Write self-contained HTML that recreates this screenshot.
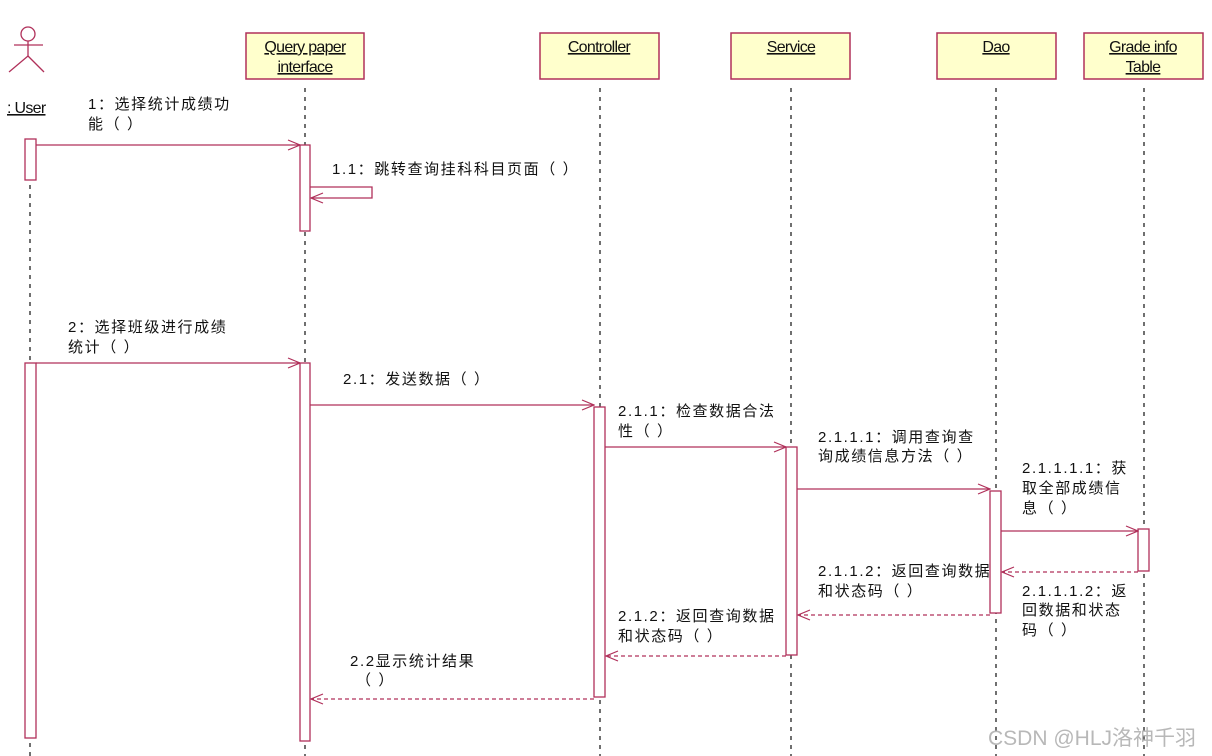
<!DOCTYPE html>
<html><head><meta charset="utf-8"><style>
html,body{margin:0;padding:0;background:#fff;width:1212px;height:756px;overflow:hidden}
text{font-family:"Liberation Sans","Noto Sans CJK SC",sans-serif;font-size:15px;fill:#111;letter-spacing:1.6px}
.h{font-size:16px;text-decoration:underline;letter-spacing:-0.7px}
</style></head><body>
<svg width="1212" height="756" xmlns="http://www.w3.org/2000/svg">
<defs>
<marker id="a" markerWidth="14" markerHeight="12" refX="13" refY="6" orient="auto" markerUnits="userSpaceOnUse"><path d="M1,1 L13,6 L1,11" fill="none" stroke="#b0305a" stroke-width="1.2"/></marker>
</defs>
<g stroke="#222" stroke-width="1.3" stroke-dasharray="4,5" fill="none">
<line x1="30" y1="185" x2="30" y2="756"/>
<line x1="305" y1="88" x2="305" y2="756"/>
<line x1="600" y1="88" x2="600" y2="756"/>
<line x1="791" y1="88" x2="791" y2="756"/>
<line x1="996" y1="88" x2="996" y2="756"/>
<line x1="1144" y1="88" x2="1144" y2="756"/>
</g>
<g stroke="#b0305a" stroke-width="1.3" fill="none">
<circle cx="28" cy="34" r="7"/>
<line x1="28" y1="41" x2="28" y2="56"/>
<line x1="14" y1="45" x2="43" y2="45"/>
<line x1="28" y1="56" x2="9" y2="72"/>
<line x1="28" y1="56" x2="44" y2="72"/>
</g>
<text x="7" y="113" class="h">: User</text>
<g fill="#ffffcc" stroke="#b0305a" stroke-width="1.5">
<rect x="246" y="33" width="118" height="46"/>
<rect x="540" y="33" width="119" height="46"/>
<rect x="731" y="33" width="119" height="46"/>
<rect x="937" y="33" width="119" height="46"/>
<rect x="1084" y="33" width="119" height="46"/>
</g>
<text x="305" y="52" text-anchor="middle" class="h">Query paper </text>
<text x="305" y="72" text-anchor="middle" class="h">interface</text>
<text x="599" y="52" text-anchor="middle" class="h">Controller</text>
<text x="791" y="52" text-anchor="middle" class="h">Service</text>
<text x="996" y="52" text-anchor="middle" class="h">Dao</text>
<text x="1143" y="52" text-anchor="middle" class="h">Grade info </text>
<text x="1143" y="72" text-anchor="middle" class="h">Table</text>
<g fill="#fff" stroke="#b0305a" stroke-width="1.3">
<rect x="25" y="139" width="11" height="41"/>
<rect x="25" y="363" width="11" height="375"/>
<rect x="300" y="145" width="10" height="86"/>
<rect x="300" y="363" width="10" height="378"/>
<rect x="594" y="407" width="11" height="290"/>
<rect x="786" y="447" width="11" height="208"/>
<rect x="990" y="491" width="11" height="122"/>
<rect x="1138" y="529" width="11" height="42"/>
</g>
<g stroke="#b0305a" stroke-width="1.3" fill="none" marker-end="url(#a)">
<line x1="36" y1="145" x2="300" y2="145"/>
<polyline points="310,187 372,187 372,198 311,198"/>
<line x1="36" y1="363" x2="300" y2="363"/>
<line x1="310" y1="405" x2="594" y2="405"/>
<line x1="605" y1="447" x2="786" y2="447"/>
<line x1="797" y1="489" x2="990" y2="489"/>
<line x1="1001" y1="531" x2="1138" y2="531"/>
</g>
<g stroke="#b0305a" stroke-width="1.3" fill="none" stroke-dasharray="4,3" marker-end="url(#a)">
<line x1="1138" y1="572" x2="1002" y2="572"/>
<line x1="990" y1="615" x2="798" y2="615"/>
<line x1="786" y1="656" x2="606" y2="656"/>
<line x1="594" y1="699" x2="311" y2="699"/>
</g>
<text x="88" y="109">1：选择统计成绩功</text>
<text x="88" y="129">能（ ）</text>
<text x="332" y="174">1.1：跳转查询挂科科目页面（ ）</text>
<text x="68" y="332">2：选择班级进行成绩</text>
<text x="68" y="352">统计（ ）</text>
<text x="343" y="384">2.1：发送数据（ ）</text>
<text x="618" y="416">2.1.1：检查数据合法</text>
<text x="618" y="436">性（ ）</text>
<text x="818" y="442">2.1.1.1：调用查询查</text>
<text x="818" y="461">询成绩信息方法（ ）</text>
<text x="1022" y="473">2.1.1.1.1：获</text>
<text x="1022" y="493">取全部成绩信</text>
<text x="1022" y="513">息（ ）</text>
<text x="1022" y="596">2.1.1.1.2：返</text>
<text x="1022" y="615">回数据和状态</text>
<text x="1022" y="635">码（ ）</text>
<text x="818" y="576">2.1.1.2：返回查询数据</text>
<text x="818" y="596">和状态码（ ）</text>
<text x="618" y="621">2.1.2：返回查询数据</text>
<text x="618" y="641">和状态码（ ）</text>
<text x="350" y="666">2.2显示统计结果</text>
<text x="356" y="685">（ ）</text>
<text x="988" y="745" style="font-size:21px;fill:#b8b8b8;letter-spacing:0">CSDN @HLJ洛神千羽</text>
</svg>
</body></html>
